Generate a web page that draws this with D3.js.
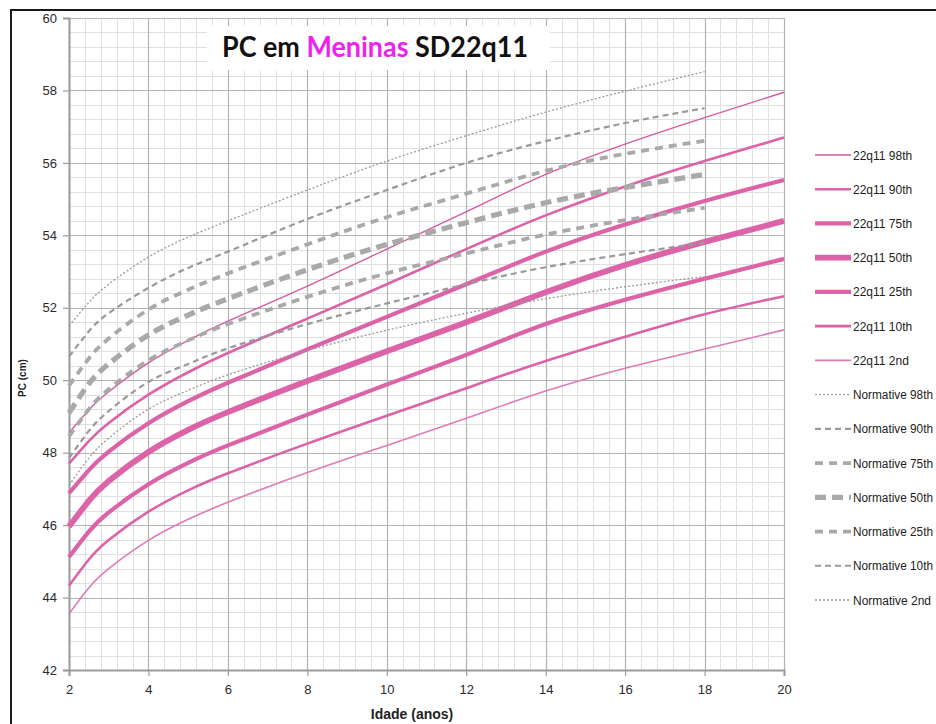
<!DOCTYPE html>
<html>
<head>
<meta charset="utf-8">
<script src="https://cdn.jsdelivr.net/npm/d3@7"></script>
<style>
  html, body { margin: 0; padding: 0; background: #fff; }
  svg { display: block; }
</style>
</head>
<body>
<svg id="chart" width="936" height="724"></svg>
<script>
// Ages (years) at which the percentile curves are sampled
const ages22q11 = [2, 2.5, 3, 4, 5, 6, 8, 10, 12, 14, 16, 18, 20];
const agesNormative = [2, 2.5, 3, 4, 5, 6, 8, 10, 12, 14, 16, 18];

// Head circumference (cm), girls with 22q11.2 deletion syndrome
const p98_22q11 = [48.55, 49.18, 49.68, 50.48, 51.1, 51.63, 52.6, 53.62, 54.65, 55.68, 56.52, 57.25, 57.95];
const p90_22q11 = [47.7, 48.32, 48.82, 49.6, 50.22, 50.75, 51.7, 52.65, 53.62, 54.55, 55.35, 56.05, 56.7];
const p75_22q11 = [46.88, 47.52, 48.03, 48.81, 49.42, 49.93, 50.85, 51.75, 52.65, 53.55, 54.3, 54.95, 55.53];
const p50_22q11 = [45.96, 46.67, 47.22, 48.02, 48.63, 49.12, 49.98, 50.8, 51.6, 52.43, 53.18, 53.82, 54.4];
const p25_22q11 = [45.12, 45.82, 46.35, 47.13, 47.72, 48.2, 49.05, 49.88, 50.7, 51.55, 52.22, 52.8, 53.35];
const p10_22q11 = [44.33, 45.05, 45.59, 46.37, 46.96, 47.43, 48.25, 49.02, 49.78, 50.53, 51.2, 51.82, 52.32];
const p2_22q11  = [43.55, 44.27, 44.8, 45.58, 46.16, 46.63, 47.45, 48.2, 48.95, 49.7, 50.33, 50.86, 51.39];

// Head circumference (cm), normative reference for girls
const p98_norm = [51.5, 52.15, 52.65, 53.4, 53.95, 54.4, 55.25, 56.05, 56.75, 57.4, 57.98, 58.52];
const p90_norm = [50.65, 51.35, 51.85, 52.55, 53.1, 53.55, 54.45, 55.25, 56.0, 56.6, 57.1, 57.51];
const p75_norm = [49.85, 50.6, 51.15, 51.95, 52.5, 52.95, 53.75, 54.5, 55.15, 55.78, 56.25, 56.61];
const p50_norm = [49.1, 49.9, 50.45, 51.25, 51.8, 52.25, 53.05, 53.75, 54.35, 54.9, 55.32, 55.68];
const p25_norm = [48.45, 49.2, 49.75, 50.55, 51.1, 51.55, 52.3, 52.95, 53.5, 54.02, 54.42, 54.76];
const p10_norm = [47.85, 48.6, 49.15, 49.95, 50.45, 50.88, 51.55, 52.12, 52.65, 53.12, 53.48, 53.8];
const p2_norm  = [47.1, 47.85, 48.4, 49.2, 49.72, 50.15, 50.82, 51.38, 51.85, 52.25, 52.58, 52.86];

// Axis ticks
const xTicks = [2, 4, 6, 8, 10, 12, 14, 16, 18, 20];
const yTicks = [42, 44, 46, 48, 50, 52, 54, 56, 58, 60];

const pink = "#dc63a7";
const gray = "#a9a9a9";
const grayDark = "#9a9a9a";

const series22q11 = [
  { name: "22q11 98th", values: p98_22q11, width: 1.4, color: "#d65a9f" },
  { name: "22q11 90th", values: p90_22q11, width: 2.6, color: pink },
  { name: "22q11 75th", values: p75_22q11, width: 4.2, color: pink },
  { name: "22q11 50th", values: p50_22q11, width: 5.8, color: pink },
  { name: "22q11 25th", values: p25_22q11, width: 4.2, color: pink },
  { name: "22q11 10th", values: p10_22q11, width: 2.6, color: pink },
  { name: "22q11 2nd",  values: p2_22q11,  width: 1.6, color: "#e07ab5" }
];
const seriesNorm = [
  { name: "Normative 98th", values: p98_norm, width: 1.3, dash: "2,2", color: grayDark },
  { name: "Normative 90th", values: p90_norm, width: 2.2, dash: "6,4", color: grayDark },
  { name: "Normative 75th", values: p75_norm, width: 3.8, dash: "8,6", color: gray },
  { name: "Normative 50th", values: p50_norm, width: 5.2, dash: "11,6", color: gray },
  { name: "Normative 25th", values: p25_norm, width: 3.8, dash: "8,6", color: gray },
  { name: "Normative 10th", values: p10_norm, width: 2.2, dash: "6,4", color: grayDark },
  { name: "Normative 2nd",  values: p2_norm,  width: 1.3, dash: "2,2", color: grayDark }
];

const svg = d3.select("#chart");
const x = d3.scaleLinear().domain([2, 20]).range([69, 784]);
const y = d3.scaleLinear().domain([42, 60]).range([670, 18]);

const labelFont = "'Liberation Sans', Arial, sans-serif";

// Outer frame
svg.append("path")
  .attr("d", "M11,724 L11,10 L936,10")
  .attr("fill", "none")
  .attr("stroke", "#1a1a1a")
  .attr("stroke-width", 2);

// Minor grid every 0.4 units
const minorX = d3.range(0, 46).map(i => 2 + i * 0.4);
const minorY = d3.range(0, 46).map(i => 42 + i * 0.4);
const grid = svg.append("g");
grid.selectAll("line.mx").data(minorX).join("line")
  .attr("x1", d => Math.round(x(d)) + 0.5).attr("x2", d => Math.round(x(d)) + 0.5)
  .attr("y1", y(60)).attr("y2", y(42))
  .attr("stroke", "#e0e0e0").attr("stroke-width", 1);
grid.selectAll("line.my").data(minorY).join("line")
  .attr("y1", d => Math.round(y(d)) + 0.5).attr("y2", d => Math.round(y(d)) + 0.5)
  .attr("x1", x(2)).attr("x2", x(20))
  .attr("stroke", "#e0e0e0").attr("stroke-width", 1);

// Major grid every 2 units
grid.selectAll("line.Mx").data(xTicks).join("line")
  .attr("x1", d => Math.round(x(d)) + 0.5).attr("x2", d => Math.round(x(d)) + 0.5)
  .attr("y1", y(60)).attr("y2", y(42))
  .attr("stroke", "#b3b3b3").attr("stroke-width", 1.2);
grid.selectAll("line.My").data(yTicks).join("line")
  .attr("y1", d => Math.round(y(d)) + 0.5).attr("y2", d => Math.round(y(d)) + 0.5)
  .attr("x1", x(2)).attr("x2", x(20))
  .attr("stroke", "#b3b3b3").attr("stroke-width", 1.2);

// Axes
const yAxis = svg.append("g")
  .attr("transform", `translate(${x(2)},0)`)
  .call(d3.axisLeft(y).tickValues(yTicks).tickSize(6).tickPadding(6).tickFormat(d3.format("d")));
const xAxis = svg.append("g")
  .attr("transform", `translate(0,${y(42)})`)
  .call(d3.axisBottom(x).tickValues(xTicks).tickSize(6).tickPadding(9).tickFormat(d3.format("d")));
[yAxis, xAxis].forEach(g => {
  g.select(".domain").attr("stroke", "#9c9c9c").attr("stroke-width", 2);
  g.selectAll(".tick line").attr("stroke", "#9c9c9c").attr("stroke-width", 1.2);
  g.selectAll(".tick text")
    .attr("font-family", labelFont)
    .attr("font-size", 13)
    .attr("fill", "#2a2a2a");
});

// Axis titles
svg.append("text")
  .attr("x", 412).attr("y", 719)
  .attr("text-anchor", "middle")
  .attr("font-family", labelFont)
  .attr("font-weight", "bold")
  .attr("font-size", 14)
  .attr("fill", "#222")
  .text("Idade (anos)");
svg.append("text")
  .attr("transform", "translate(26,378) rotate(-90)")
  .attr("text-anchor", "middle")
  .attr("font-family", labelFont)
  .attr("font-weight", "bold")
  .attr("font-size", 10)
  .attr("fill", "#222")
  .text("PC (cm)");

// Curves
const line = (ages) => d3.line()
  .x((d, i) => x(ages[i]))
  .y(d => y(d))
  .curve(d3.curveNatural);

const plot = svg.append("g");
plot.selectAll("path.p22").data(series22q11).join("path")
  .attr("fill", "none")
  .attr("stroke", d => d.color)
  .attr("stroke-width", d => d.width)
  .attr("stroke-linecap", "butt")
  .attr("d", d => line(ages22q11)(d.values));
plot.selectAll("path.pn").data(seriesNorm).join("path")
  .attr("fill", "none")
  .attr("stroke", d => d.color)
  .attr("stroke-width", d => d.width)
  .attr("stroke-dasharray", d => d.dash)
  .attr("stroke-linecap", "butt")
  .attr("d", d => line(agesNormative)(d.values));

// Title box
svg.append("rect")
  .attr("x", 207).attr("y", 26).attr("width", 343).attr("height", 44)
  .attr("fill", "#fff");
const title = svg.append("text")
  .attr("x", 375).attr("y", 57)
  .attr("text-anchor", "middle")
  .attr("font-family", "Lato, 'Open Sans', sans-serif")
  .attr("font-weight", "bold")
  .attr("font-size", 28)
  .attr("textLength", 306)
  .attr("lengthAdjust", "spacingAndGlyphs");
title.append("tspan").attr("fill", "#111").text("PC em ");
title.append("tspan").attr("fill", "#ee22ee").text("Meninas");
title.append("tspan").attr("fill", "#111").text(" SD22q11");

// Legend
const legendItems = series22q11.concat(seriesNorm);
const legend = svg.append("g");
const legendY = d3.scaleLinear().domain([0, 13]).range([155, 600]);
const items = legend.selectAll("g").data(legendItems).join("g")
  .attr("transform", (d, i) => `translate(0,${legendY(i)})`);
items.append("line")
  .attr("x1", 815).attr("x2", 851)
  .attr("stroke", d => d.color)
  .attr("stroke-width", d => d.width)
  .attr("stroke-dasharray", d => d.dash || null);
items.append("text")
  .attr("x", 853).attr("y", 4.5)
  .attr("font-family", labelFont)
  .attr("font-size", 12)
  .attr("fill", "#222")
  .text(d => d.name)
  .each(function () {
    // keep the longest labels inside the right edge
    const w = this.getComputedTextLength();
    if (w > 80) d3.select(this).attr("textLength", 80).attr("lengthAdjust", "spacingAndGlyphs");
  });
</script>
</body>
</html>
